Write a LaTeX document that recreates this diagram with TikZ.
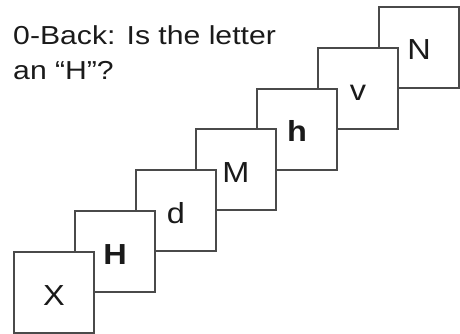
\documentclass[tikz,border=0pt]{standalone}
\usepackage{fontspec}
\setmainfont{Liberation Sans}
\definecolor{boxline}{HTML}{4A4A4A}
\definecolor{txt}{HTML}{1A1A1A}
\begin{document}
\begin{tikzpicture}[x=1pt,y=-1pt,
  card/.style={draw=boxline, line width=1.8pt, fill=white},
  cardletter/.style={anchor=base, inner sep=0pt, text=txt, font=\fontsize{29}{29}\selectfont, xscale=1.12},
  titletext/.style={anchor=base west, inner sep=0pt, text=txt, font=\fontsize{26}{26}\selectfont, xscale=1.16}]
\useasboundingbox (0,0) rectangle (460,334);
% boxes drawn back to front
\foreach \i/\name in {6/bN,5/bv,4/bh,3/bM,2/bd,1/bH,0/bX}{
  \pgfmathsetmacro{\L}{round(14+60.8*\i)}
  \pgfmathsetmacro{\T}{round(251.5-40.7*\i)}
  \path[card] (\L,\T) rectangle ++(80,81);
  \coordinate (\name) at (\L+40,\T+53);
}
\node[cardletter] (lX) at (bX) {X};
\node[cardletter] (lH) at (bH) {\bfseries H};
\node[cardletter] (ld) at (bd) {d};
\node[cardletter] (lM) at (bM) {M};
\node[cardletter] (lh) at (bh) {\bfseries h};
\node[cardletter] (lv) at (bv) {v};
\node[cardletter] (lN) at (bN) {N};
\node[titletext] (t1) at (13,45) {0-Back: Is the letter};
\node[titletext] (t2) at (13,80) {an “H”?};
\end{tikzpicture}
\end{document}
